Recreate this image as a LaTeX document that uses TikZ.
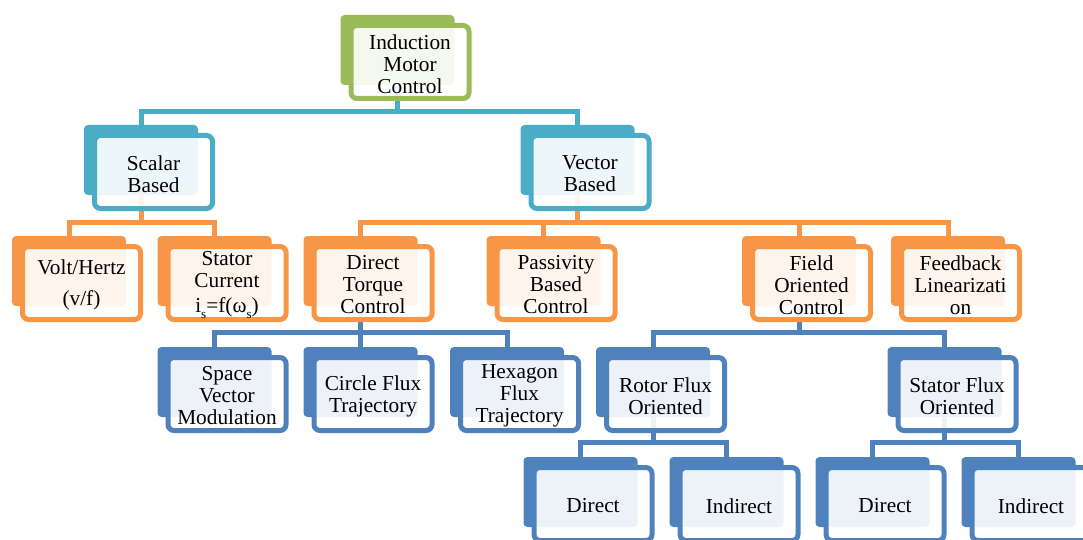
\documentclass[tikz,border=0pt]{standalone}
\usepackage{fontspec}
\setmainfont{Liberation Serif}
\pgfdeclarelayer{background}
\pgfsetlayers{background,main}
\definecolor{cgreen}{HTML}{9BBB59}
\definecolor{cteal}{HTML}{4BACC6}
\definecolor{corange}{HTML}{F79646}
\definecolor{cblue}{HTML}{4F81BD}
\newcommand\lowsub[1]{\raisebox{-0.28em}{\fontsize{13}{13}\selectfont #1}}
\tikzset{
  backbox/.style={rectangle, rounded corners=4pt, minimum width=114pt, minimum height=70pt, inner sep=0pt, draw=none},
  frontbox/.style={rectangle, rounded corners=6pt, minimum width=118pt, minimum height=73pt, inner sep=0pt, line width=5pt, fill=white, fill opacity=0.9},
  boxtext/.style={inner sep=1pt, align=center, font=\fontsize{21.3}{22}\selectfont},
  conn/.style={line width=5pt},
}
% #1 name, #2 bx, #3 by, #4 colour, #5 text
\newcommand\smartbox[5]{%
  \node[backbox, fill=#4] (#1b) at ({#2+57},{#3+35}) {};
  \node[frontbox, draw=#4] (#1) at ({#2+69.5},{#3+47}) {};
  \node[boxtext] (#1t) at ([yshift=-2pt]#1.center) {#5};
}
\begin{document}
\begin{tikzpicture}[x=1pt,y=-1pt]
\useasboundingbox (0,0) rectangle (1083,540);
% level 0
\smartbox{root}{340.5}{15}{cgreen}{Induction\\Motor\\Control}
% level 1
\smartbox{scalar}{84}{125}{cteal}{Scalar\\Based}
\smartbox{vector}{520.5}{125}{cteal}{Vector\\Based}
% level 2
\smartbox{volt}{12}{236}{corange}{Volt/Hertz\\[9pt](v/f)}
\smartbox{stator}{157.5}{236}{corange}{Stator\\Current\\[3pt]i\lowsub{s}=f(ω\lowsub{s})}
\smartbox{dtc}{303.5}{236}{corange}{Direct\\Torque\\Control}
\smartbox{pass}{486.5}{236}{corange}{Passivity\\Based\\Control}
\smartbox{foc}{742}{236}{corange}{Field\\Oriented\\Control}
\smartbox{feed}{891}{236}{corange}{Feedback\\Linearizati\\on}
% level 3
\smartbox{svm}{157.5}{347}{cblue}{Space\\Vector\\Modulation}
\smartbox{circ}{303.5}{347}{cblue}{Circle Flux\\Trajectory}
\smartbox{hex}{450}{347}{cblue}{Hexagon\\Flux\\Trajectory}
\smartbox{rotor}{596}{347}{cblue}{Rotor Flux\\Oriented}
\smartbox{sflux}{887.5}{347}{cblue}{Stator Flux\\Oriented}
% level 4
\smartbox{dA}{523.5}{457}{cblue}{Direct}
\smartbox{iA}{669.5}{457}{cblue}{Indirect}
\smartbox{dB}{815.5}{457}{cblue}{Direct}
\smartbox{iB}{961.5}{457}{cblue}{Indirect}
% connectors
\coordinate (h1) at (0,111.5);
\coordinate (h2) at (0,222.5);
\coordinate (h3) at (0,332.5);
\coordinate (h4) at (0,442.5);
\begin{pgfonlayer}{background}
\foreach \c in {scalar,vector}
  \draw[conn, draw=cteal] (rootb.center) -- (rootb.center |- h1) -| (\c b.center);
\foreach \c in {volt,stator}
  \draw[conn, draw=corange] (scalarb.center) -- (scalarb.center |- h2) -| (\c b.center);
\foreach \c in {dtc,pass,foc,feed}
  \draw[conn, draw=corange] (vectorb.center) -- (vectorb.center |- h2) -| (\c b.center);
\foreach \c in {svm,circ,hex}
  \draw[conn, draw=cblue] (dtcb.center) -- (dtcb.center |- h3) -| (\c b.center);
\foreach \c in {rotor,sflux}
  \draw[conn, draw=cblue] (focb.center) -- (focb.center |- h3) -| (\c b.center);
\foreach \c in {dA,iA}
  \draw[conn, draw=cblue] (rotorb.center) -- (rotorb.center |- h4) -| (\c b.center);
\foreach \c in {dB,iB}
  \draw[conn, draw=cblue] (sfluxb.center) -- (sfluxb.center |- h4) -| (\c b.center);
\end{pgfonlayer}
\end{tikzpicture}
\end{document}
